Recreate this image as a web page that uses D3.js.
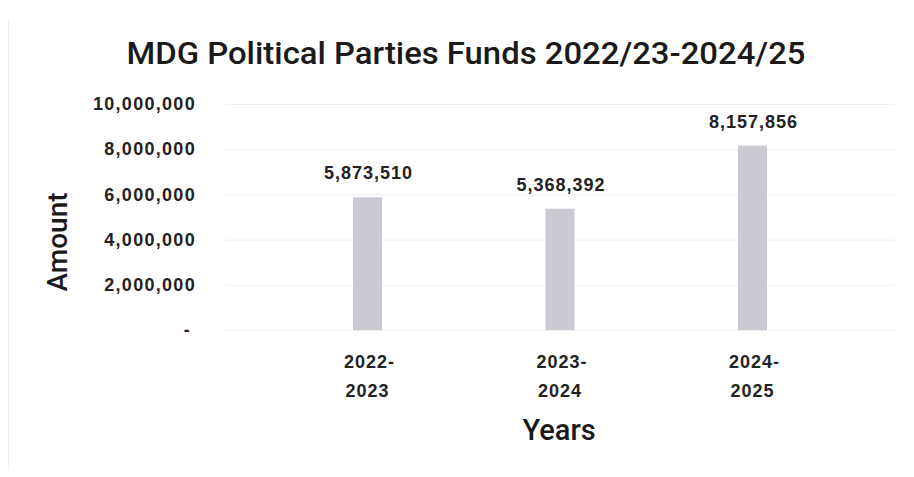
<!DOCTYPE html>
<html><head><meta charset="utf-8">
<script src="https://cdn.jsdelivr.net/npm/d3@7"></script>
<style>body{margin:0;background:#fff}svg{display:block}</style>
</head><body>
<script>
const categories = ["2022-2023", "2023-2024", "2024-2025"];
const amounts = [5873510, 5368392, 8157856];
const yTicks = [0, 2000000, 4000000, 6000000, 8000000, 10000000];
const title = "MDG Political Parties Funds 2022/23-2024/25";
const xTitle = "Years";
const yTitle = "Amount";

const W = 914, H = 477;
const svg = d3.select("body").append("svg").attr("width", W).attr("height", H);
svg.append("rect").attr("width", W).attr("height", H).attr("fill", "#fff");
svg.append("line").attr("x1", 8.5).attr("x2", 8.5).attr("y1", 20).attr("y2", 470)
  .attr("stroke", "#f0f0f0").attr("stroke-width", 1);

const x = d3.scaleBand().domain(categories).range([225, 895]).paddingInner(0.849).paddingOuter(0.665);
const y = d3.scaleLinear().domain([0, 10000000]).range([330, 104]);
const fmt = d3.format(",");
const txt = "#222";

// gridlines
svg.append("g").selectAll("line").data(yTicks).join("line")
  .attr("x1", 225).attr("x2", 895)
  .attr("y1", d => y(d) + 0.5).attr("y2", d => y(d) + 0.5)
  .attr("stroke", "#efefef").attr("stroke-width", 1);

// y axis
const yAxis = svg.append("g").attr("transform", "translate(196,0)")
  .call(d3.axisLeft(y).tickValues(yTicks).tickSize(0).tickPadding(0)
    .tickFormat(d => d === 0 ? "-" : fmt(d)));
yAxis.select(".domain").remove();
yAxis.selectAll("text").attr("font-family", "Liberation Sans, Arial, sans-serif")
  .attr("font-weight", "bold").attr("font-size", 18).attr("fill", txt)
  .attr("letter-spacing", 1.3).attr("dx", d => d === 0 ? -5 : 0);

// bars
svg.append("g").selectAll("rect").data(amounts).join("rect")
  .attr("x", (d, i) => x(categories[i]))
  .attr("width", x.bandwidth())
  .attr("y", d => y(d))
  .attr("height", d => y(0) - y(d))
  .attr("fill", "#cacbd2");

// bar labels
svg.append("g").selectAll("text").data(amounts).join("text")
  .attr("x", (d, i) => x(categories[i]) + x.bandwidth() / 2 + 1)
  .attr("y", d => y(d) - 18)
  .attr("text-anchor", "middle")
  .attr("font-family", "Liberation Sans, Arial, sans-serif")
  .attr("font-weight", "bold").attr("font-size", 18).attr("letter-spacing", 1)
  .attr("fill", txt).text(d => fmt(d));

// x axis
const xAxis = svg.append("g").attr("transform", "translate(0,330)")
  .call(d3.axisBottom(x).tickSize(0).tickFormat(""));
xAxis.select(".domain").remove();
const xl = svg.append("g").selectAll("text").data(categories).join("text")
  .attr("x", d => x(d) + x.bandwidth() / 2)
  .attr("text-anchor", "middle")
  .attr("font-family", "Liberation Sans, Arial, sans-serif")
  .attr("font-weight", "bold").attr("font-size", 18).attr("letter-spacing", 1)
  .attr("fill", txt);
xl.append("tspan").attr("x", d => x(d) + x.bandwidth() / 2 + 2).attr("y", 368).text(d => d.split("-")[0] + "-");
xl.append("tspan").attr("x", d => x(d) + x.bandwidth() / 2).attr("y", 397).text(d => d.split("-")[1]);

// titles
svg.append("text").attr("x", 466).attr("y", 64).attr("text-anchor", "middle")
  .attr("font-family", "Roboto, sans-serif").attr("font-weight", 500).attr("font-size", 31)
  .attr("textLength", 679).attr("lengthAdjust", "spacingAndGlyphs")
  .attr("fill", "#1a1a1a").text(title);
svg.append("text").attr("x", 559).attr("y", 440).attr("text-anchor", "middle")
  .attr("font-family", "Roboto, sans-serif").attr("font-weight", 500).attr("font-size", 29)
  .attr("fill", "#1a1a1a").text(xTitle);
svg.append("text").attr("transform", "translate(67,242) rotate(-90)").attr("text-anchor", "middle")
  .attr("font-family", "Roboto, sans-serif").attr("font-weight", 500).attr("font-size", 28)
  .attr("fill", "#1a1a1a").text(yTitle);
</script>
</body></html>
